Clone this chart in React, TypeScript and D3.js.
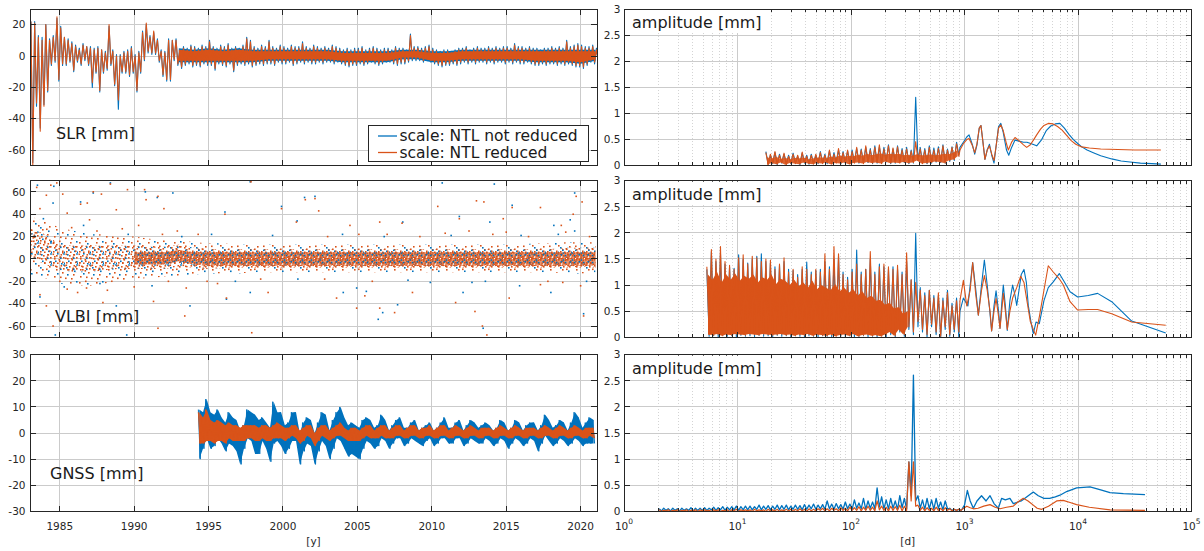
import React from 'react';
import * as d3 from 'd3';

const BLUE = '#0072BD';
const ORANGE = '#D95319';
const INK = '#262626';
const FONT = "'DejaVu Sans', Verdana, sans-serif";

// ---------------- axes / labels ----------------
const timeDomain = [1983.0, 2021.1];
const timeTicks = [1985, 1990, 1995, 2000, 2005, 2010, 2015, 2020];
const periodDomain = [1, 100000];
const periodTicks = [1, 10, 100, 1000, 10000, 100000];
const periodExponents = ['0', '1', '2', '3', '4', '5'];
const slrDomain = [-70, 30];
const slrTicks = [-60, -40, -20, 0, 20];
const vlbiDomain = [-70, 70];
const vlbiTicks = [-60, -40, -20, 0, 20, 40, 60];
const gnssDomain = [-30, 30];
const gnssTicks = [-30, -20, -10, 0, 10, 20, 30];
const ampDomain = [0, 3];
const ampTicks = [0, 0.5, 1, 1.5, 2, 2.5, 3];
const seriesNames = ['scale: NTL not reduced', 'scale: NTL reduced'];
const panelLabels = ['SLR [mm]', 'VLBI [mm]', 'GNSS [mm]'];
const ampLabel = 'amplitude [mm]';

// ---------------- SLR time series (min / max per quarter year from 1983.0) ----------------
const slrStart = 1983.0;
const slrStep = 0.25;
const slrOrangeHi = [
  22, 21, 12, 10, 20, 10, 12, 25, 18, 12, 10, 8, 6, 4, 7, 6, 5, 4, 5, 4,
  2, 20, 3, 0, 0, 2, 3, 5, 0, 2, 15, 21, 12, 16, 10, 3, 2, 10, 10, 10,
  3, 5, 4, 6, 5, 4, 6, 5, 9, 5, 4, 6, 5, 7, 4, 5, 4, 6, 11, 9,
  5, 4, 6, 5, 9, 5, 4, 6, 5, 4, 6, 5, 5, 8, 5, 4, 6, 5, 4, 5,
  4, 6, 5, 4, 3, 4, 3, 4, 4, 5, 3, 4, 5, 4, 3, 4, 4, 3, 5, 4,
  4, 3, 13, 5, 5, 4, 5, 6, 4, 3, 2, 3, 3, 2, 3, 4, 4, 5, 3, 4,
  5, 4, 4, 5, 4, 5, 4, 5, 5, 4, 7, 5, 5, 4, 5, 4, 4, 3, 4, 4,
  5, 4, 5, 4, 9, 5, 6, 7, 6, 5, 5, 6, 4,
];
const slrOrangeLo = [
  -70, -30, -48, -32, -22, -5, -3, -15, -5, -5, -3, -9, -3, -5, -2, -5, -17, -10, -22, -10,
  -8, -5, -18, -28, -10, -10, -12, -10, -22, -10, -2, 3, 2, 2, -3, -12, -15, -15, -2, -5,
  -7, -5, -4, -6, -5, -6, -4, -5, -5, -8, -4, -5, -6, -4, -9, -5, -4, -5, -4, -6,
  -5, -4, -5, -4, -4, -5, -3, -4, -4, -3, -5, -4, -3, -4, -3, -4, -4, -3, -4, -3,
  -3, -4, -3, -4, -5, -6, -5, -5, -4, -5, -4, -3, -4, -5, -4, -3, -3, -4, -5, -4,
  -4, -3, -2, -2, -2, -3, -2, -3, -4, -5, -6, -5, -5, -4, -5, -4, -3, -4, -3, -4,
  -3, -3, -4, -3, -4, -3, -3, -4, -3, -4, -3, -4, -4, -3, -4, -5, -5, -4, -5, -4,
  -4, -5, -4, -5, -4, -5, -6, -6, -7, -5, -3, -4, -3,
];
const slrBlueHi = [
  22, 22, 13, 12, 20, 11, 13, 24, 19, 12, 11, 9, 7, 5, 8, 6, 6, 5, 6, 4,
  3, 19, 4, 1, 1, 3, 4, 6, 1, 3, 16, 20, 13, 15, 11, 4, 3, 11, 10, 11,
  4, 6, 5, 7, 6, 5, 7, 6, 10, 6, 5, 7, 6, 8, 5, 6, 5, 7, 12, 10,
  6, 5, 7, 6, 10, 6, 5, 7, 6, 5, 7, 6, 6, 9, 6, 5, 7, 6, 5, 6,
  5, 7, 6, 5, 4, 5, 4, 5, 5, 6, 4, 5, 6, 5, 4, 5, 5, 4, 6, 5,
  5, 4, 14, 6, 6, 5, 6, 7, 5, 4, 3, 4, 4, 3, 4, 5, 5, 6, 4, 5,
  6, 5, 5, 6, 5, 6, 5, 6, 6, 5, 8, 6, 6, 5, 6, 5, 5, 4, 5, 5,
  6, 5, 6, 5, 10, 6, 7, 8, 7, 6, 6, 7, 5,
];
const slrBlueLo = [
  -68, -32, -46, -31, -23, -6, -4, -16, -6, -6, -4, -10, -4, -6, -3, -6, -20, -11, -23, -11,
  -9, -6, -19, -34, -11, -11, -13, -11, -23, -11, -3, 2, 1, 1, -4, -13, -16, -16, -3, -6,
  -8, -6, -5, -7, -6, -7, -5, -6, -6, -9, -5, -6, -7, -5, -10, -6, -5, -6, -5, -7,
  -6, -5, -6, -5, -5, -6, -4, -5, -5, -4, -6, -5, -4, -5, -4, -5, -5, -4, -5, -4,
  -4, -5, -4, -5, -6, -7, -6, -6, -5, -6, -5, -4, -5, -6, -5, -4, -4, -5, -6, -5,
  -5, -4, -3, -3, -3, -4, -3, -4, -5, -6, -7, -6, -6, -5, -6, -5, -4, -5, -4, -5,
  -4, -4, -5, -4, -5, -4, -4, -5, -4, -5, -4, -5, -5, -4, -5, -6, -6, -5, -6, -5,
  -5, -6, -5, -6, -5, -6, -7, -7, -8, -6, -4, -5, -4,
];
// dense core of the SLR record, yearly 1993 ... 2021
const slrCoreYears = [1993, 1994, 1995, 1996, 1997, 1998, 1999, 2000, 2001, 2002, 2003, 2004, 2005, 2006, 2007, 2008, 2009, 2010, 2011, 2012, 2013, 2014, 2015, 2016, 2017, 2018, 2019, 2020, 2021];
const slrCoreOrangeHi = [4, 3, 4, 3, 4, 3, 3, 3, 3, 3, 3, 2, 2, 2, 2, 3, 3, 2, 2, 3, 3, 3, 3, 3, 3, 3, 3, 3, 3];
const slrCoreOrangeLo = [-3, -3, -3, -3, -3, -3, -2, -2, -2, -2, -2, -3, -3, -3, -3, -1, -1, -3, -3, -2, -2, -2, -2, -2, -3, -3, -3, -4, -2];
const slrCoreBlueHi = [5, 4, 5, 4, 5, 4, 4, 4, 4, 4, 4, 3, 3, 3, 3, 4, 4, 3, 3, 4, 4, 4, 4, 4, 4, 4, 4, 4, 4];
const slrCoreBlueLo = [-4, -4, -4, -4, -4, -4, -3, -3, -3, -3, -3, -4, -4, -4, -4, -2, -2, -4, -4, -3, -3, -3, -3, -3, -4, -4, -4, -5, -3];

// ---------------- VLBI time series: point cloud bands per year + single points ----------------
const vlbiBandYears = [
  1983, 1984, 1985, 1986, 1987, 1988, 1989, 1990, 1991, 1992, 1993, 1994, 1995, 1996, 1997, 1998, 1999, 2000, 2001, 2002,
  2003, 2004, 2005, 2006, 2007, 2008, 2009, 2010, 2011, 2012, 2013, 2014, 2015, 2016, 2017, 2018, 2019, 2020, 2021,
];
const vlbiOuterHi = [38, 34, 28, 25, 22, 22, 20, 20, 18, 17, 17, 15, 14, 14, 13, 13, 13, 13, 13, 13, 13, 13, 13, 13, 13, 13, 13, 13, 13, 13, 13, 13, 13, 13, 14, 14, 15, 15, 15];
const vlbiOuterLo = [-14, -17, -22, -24, -24, -22, -20, -18, -17, -16, -15, -14, -13, -13, -13, -12, -12, -12, -12, -12, -12, -12, -12, -12, -12, -12, -12, -12, -12, -12, -12, -12, -12, -12, -12, -12, -13, -13, -13];
const vlbiMidHi = [28, 22, 13, 12, 12, 12, 12, 12, 11, 11, 13, 10, 9, 9, 9, 9, 9, 9, 9, 9, 9, 9, 9, 9, 9, 9, 9, 9, 9, 9, 9, 9, 9, 9, 9, 9, 10, 10, 10];
const vlbiMidLo = [2, -5, -10, -12, -12, -10, -9, -9, -9, -9, -7, -8, -9, -8, -8, -8, -8, -8, -8, -8, -8, -8, -8, -8, -8, -8, -8, -8, -8, -8, -8, -8, -8, -8, -8, -8, -8, -8, -8];
const vlbiInnerHi = [null, null, null, null, null, null, null, 6, 6, 6, 8, 6, 6, 6, 6, 6, 6, 6, 6, 6, 6, 6, 6, 6, 6, 6, 6, 6, 6, 6, 6, 6, 6, 6, 6, 6, 6, 6, 6];
const vlbiInnerLo = [null, null, null, null, null, null, null, -5, -5, -5, -2, -5, -6, -6, -6, -6, -6, -6, -6, -6, -6, -6, -6, -6, -6, -6, -6, -6, -6, -6, -6, -6, -6, -6, -6, -6, -6, -6, -6];
const vlbiPointsOrange = [
  [1983.45, 64], [1983.67, 45], [1984.1, 57], [1984.4, 66], [1984.8, 68], [1985.2, 58], [1985.5, 41], [1986.4, 49],
  [1986.85, 50], [1987.25, 60], [1987.8, 58], [1988.4, 67], [1989.55, 62], [1990.7, 62], [1990.8, 53], [1991.6, 56],
  [1992.0, 45], [1996.1, 40], [1997.85, 69], [1999.9, 45], [2000.9, 33], [1987.0, 35], [1988.8, 44], [1983.67, -32],
  [1984.1, -42], [1984.55, -60], [1986.4, -51], [1986.8, -26], [1987.9, -39], [1989.05, -57], [1989.8, -53], [1991.3, -38],
  [1991.6, -62], [1993.4, -51], [1996.2, -35], [1997.9, -66], [1999.0, -30], [1993.5, -26], [1985.5, -27], [2001.5, 53],
  [2002.15, 54], [2002.4, 43], [2004.5, 30], [2006.5, 33], [2008.0, 32], [2010.4, 47], [2011.85, 36], [2013.0, 52],
  [2013.5, 51], [2014.8, 36], [2015.4, 46], [2017.3, 46], [2018.7, 30], [2019.5, 40], [2019.7, 56], [2020.1, 51],
  [2003.6, -35], [2004.95, -44], [2005.5, -33], [2006.5, -44], [2007.5, -48], [2008.7, -30], [2011.6, -39], [2012.9, -47],
  [2013.4, -60], [2013.7, -68], [2015.2, -35], [2017.3, -23], [2018.8, -21], [2020.0, -24], [2020.2, -51],
  [1985.8, 28], [1986.2, -30], [1987.5, 25], [1988.2, -28], [1989.2, 27], [1990.3, 30], [1991.9, 22], [1992.9, 25],
  [1994.3, 22], [1995.6, -22], [1998.5, -18], [2003.0, 20], [2005.1, 22], [2006.0, -20], [2009.2, 20], [2010.9, 23],
  [2012.5, 25], [2014.1, 22], [2016.5, 20], [2017.8, -20], [2019.0, 24], [2020.6, 20], [1994.9, -20], [1992.3, -20],
  [1990.0, -25], [2002.8, -18], [2007.0, 22], [2015.0, 24],
];
const vlbiPointsBlue = [
  [1983.5, 66], [1983.9, 36], [1984.55, 50], [1984.6, 65], [1986.4, 51], [1987.25, 59], [1988.4, 68], [1990.75, 60],
  [1991.55, 55], [1992.6, 59], [1996.1, 42], [1997.8, 69], [1999.9, 47], [1983.67, -34], [1984.7, -68], [1986.45, -52],
  [1988.8, -42], [1989.5, -68], [1989.85, -55], [1993.75, -42], [1996.2, -36], [1997.8, -30], [2001.45, 55], [2000.95, 34],
  [2002.15, 56], [2008.05, 33], [2010.7, 68], [2011.85, 38], [2013.9, 33], [2014.2, 67], [2015.4, 48], [2018.2, 30],
  [2019.3, 35], [2019.6, 59], [2019.6, 25], [2004.05, -30], [2004.95, -26], [2005.6, -29], [2006.4, -54], [2006.7, -48],
  [2007.7, -41], [2009.9, -21], [2012.1, -30], [2012.7, -21], [2013.45, -62], [2015.9, -24], [2018.0, -30], [2020.2, -49],
  [1985.3, -25], [1986.6, 30], [1987.7, -22], [1989.6, 22], [1991.2, -24], [1993.2, 20], [1995.2, 22], [1996.8, -20],
  [1999.3, 21], [2001.0, -18], [2004.0, 22], [2006.8, 20], [2008.4, -19], [2011.3, 21], [2013.6, -20], [2016.0, 21],
  [2018.5, 22], [2020.4, -20],
];

// ---------------- GNSS time series (min / max per quarter year from 1994.25) ----------------
const gnssStart = 1994.25;
const gnssStep = 0.25;
const gnssBlueHi = [
  9, 8, 13, 8, 7, 9, 6, 4, 8, 6, 5, 1, 3, 9, 8, 7, 5, 6, 4, 2, 12, 8, 8, 3, 4, 8, 8,
  0, 4, 6, 5, 0, 4, 8, 7, 1, 5, 8, 10, 6, 3, 4, 3, 2, 5, 6, 5, 2, 3, 7, 5, 1, 3, 5, 6,
  2, 2, 4, 5, 1, 2, 3, 4, 1, 2, 4, 6, 2, 2, 4, 5, 1, 3, 5, 4, 2, 3, 4, 3, 1, 2, 5, 4,
  1, 2, 5, 4, 1, 3, 4, 4, 1, 3, 7, 5, 2, 3, 5, 4, 1, 4, 8, 6, 2, 4, 6, 5,
];
const gnssBlueLo = [
  -10, -6, -2, -6, -5, -2, -4, -7, -4, -5, -7, -12, -6, -2, -3, -8, -8, -3, -6, -11, -4, -3, -5, -8, -6, -3, -3,
  -12, -7, -4, -5, -12, -7, -3, -5, -10, -6, -2, -3, -6, -9, -8, -9, -10, -6, -3, -4, -6, -5, -2, -3, -6, -4, -2, -2,
  -5, -4, -2, -3, -4, -5, -3, -2, -5, -4, -2, -2, -4, -4, -2, -2, -5, -4, -2, -3, -4, -4, -2, -3, -5, -4, -2, -3,
  -6, -4, -2, -3, -5, -4, -2, -3, -7, -4, -1, -3, -5, -4, -2, -3, -5, -4, -2, -3, -5, -4, -4, -4,
];
const gnssOrangeHi = [
  8, 6, 9, 5, 4, 5, 4, 3, 4, 3, 3, 2, 3, 3, 3, 3, 2, 3, 3, 2, 3, 4, 3, 2, 2, 3, 3,
  1, 2, 3, 3, 0, 2, 3, 3, 1, 2, 3, 4, 2, 1, 2, 2, 1, 2, 3, 3, 1, 2, 3, 3, 1, 2, 3, 3,
  1, 2, 3, 3, 1, 2, 2, 3, 1, 2, 3, 3, 1, 2, 3, 2, 1, 2, 3, 2, 1, 2, 2, 2, 1, 2, 3, 2,
  1, 2, 3, 2, 1, 2, 2, 2, 1, 2, 3, 2, 1, 2, 3, 2, 1, 2, 3, 2, 1, 2, 2, 2,
];
const gnssOrangeLo = [
  -4, -4, -3, -3, -4, -3, -3, -4, -2, -3, -3, -3, -3, -2, -2, -3, -3, -2, -3, -3, -2, -2, -2, -3, -2, -1, -2,
  -4, -3, -1, -2, -5, -3, -1, -2, -3, -2, -1, -1, -2, -3, -3, -3, -3, -2, -1, -2, -2, -2, -1, -2, -2, -2, -1, -1,
  -2, -2, -1, -1, -2, -2, -1, -1, -2, -2, -1, -1, -2, -2, -1, -1, -2, -2, -1, -1, -2, -2, -1, -1, -2, -2, -1, -1,
  -2, -2, -1, -1, -2, -2, -1, -1, -2, -2, -1, -1, -2, -2, -1, -1, -2, -2, -1, -1, -2, -2, -1, -2,
];

// ---------------- amplitude spectra: min/max per log10(period) bin, then resolved curve ----------------
const specStep = 0.04;
const slrSpecStart = 1.24;
const slrSpecBlueHi = [
  0.27, 0.2, 0.25, 0.22, 0.22, 0.2, 0.24, 0.18, 0.24, 0.2, 0.22, 0.2, 0.27, 0.22, 0.28, 0.25, 0.3, 0.27, 0.28, 0.3,
  0.33, 0.32, 0.35, 0.33, 0.38, 0.36, 0.35, 0.4, 0.32, 0.38, 0.33, 0.35, 0.3, 1.31, 0.35, 0.33, 0.38, 0.34, 0.36, 0.4,
  0.32, 0.36, 0.45,
];
const slrSpecBlueLo = [
  0.03, 0.04, 0.02, 0.05, 0.03, 0.04, 0.05, 0.02, 0.05, 0.03, 0.04, 0.04, 0.05, 0.04, 0.04, 0.06, 0.03, 0.05, 0.04, 0.06,
  0.05, 0.05, 0.06, 0.04, 0.05, 0.05, 0.07, 0.04, 0.05, 0.06, 0.06, 0.04, 0.05, 0.1, 0.05, 0.04, 0.05, 0.07, 0.06, 0.05,
  0.08, 0.1, 0.2,
];
const slrSpecOrangeHi = [
  0.25, 0.22, 0.27, 0.2, 0.24, 0.18, 0.22, 0.2, 0.26, 0.18, 0.2, 0.22, 0.25, 0.2, 0.3, 0.22, 0.33, 0.25, 0.3, 0.27,
  0.35, 0.3, 0.38, 0.3, 0.35, 0.4, 0.32, 0.38, 0.34, 0.36, 0.3, 0.32, 0.28, 0.46, 0.32, 0.3, 0.35, 0.3, 0.33, 0.38,
  0.3, 0.35, 0.42,
];
const slrSpecOrangeLo = [
  0.02, 0.05, 0.03, 0.06, 0.02, 0.05, 0.04, 0.03, 0.06, 0.04, 0.03, 0.05, 0.04, 0.06, 0.03, 0.05, 0.04, 0.06, 0.03, 0.05,
  0.06, 0.04, 0.07, 0.05, 0.06, 0.04, 0.08, 0.05, 0.06, 0.05, 0.07, 0.05, 0.06, 0.1, 0.04, 0.05, 0.06, 0.08, 0.07, 0.05,
  0.1, 0.12, 0.18,
];
const slrSpecOrangeCore = [
  0.16, 0.14, 0.17, 0.13, 0.15, 0.12, 0.15, 0.14, 0.16, 0.12, 0.14, 0.15, 0.16, 0.14, 0.18, 0.15, 0.2, 0.17, 0.19, 0.18,
  0.21, 0.19, 0.23, 0.2, 0.22, 0.24, 0.21, 0.23, 0.22, 0.23, 0.2, 0.21, 0.19, 0.22, 0.2, 0.2, 0.22, 0.2, 0.21, 0.23,
  0.22, 0.25, 0.3,
];
const slrSpecBlueTail = [
  [2.96, 0.35], [2.99, 0.45], [3.02, 0.55], [3.04, 0.59], [3.07, 0.4], [3.09, 0.22], [3.11, 0.4], [3.13, 0.72], [3.145, 0.77],
  [3.16, 0.5], [3.18, 0.12], [3.2, 0.3], [3.22, 0.41], [3.24, 0.2], [3.26, 0.05], [3.28, 0.4], [3.3, 0.75], [3.32, 0.81],
  [3.34, 0.65], [3.37, 0.3], [3.39, 0.2], [3.415, 0.35], [3.445, 0.49], [3.48, 0.47], [3.52, 0.45], [3.55, 0.45],
  [3.59, 0.42], [3.636, 0.38], [3.68, 0.5], [3.72, 0.67], [3.76, 0.76], [3.8, 0.8], [3.84, 0.81], [3.88, 0.72], [3.92, 0.6],
  [3.96, 0.5], [4.0, 0.42], [4.033, 0.36], [4.08, 0.3], [4.135, 0.25], [4.2, 0.19], [4.297, 0.13], [4.38, 0.09],
  [4.458, 0.07], [4.55, 0.05], [4.65, 0.04], [4.73, 0.03],
];
const slrSpecOrangeTail = [
  [2.96, 0.3], [2.99, 0.42], [3.02, 0.5], [3.04, 0.52], [3.07, 0.38], [3.09, 0.25], [3.11, 0.42], [3.13, 0.72], [3.145, 0.77],
  [3.16, 0.5], [3.18, 0.12], [3.2, 0.3], [3.22, 0.38], [3.24, 0.22], [3.26, 0.1], [3.28, 0.4], [3.3, 0.72], [3.32, 0.78],
  [3.34, 0.68], [3.37, 0.42], [3.386, 0.3], [3.415, 0.45], [3.445, 0.54], [3.48, 0.48], [3.52, 0.4], [3.548, 0.35],
  [3.58, 0.4], [3.61, 0.5], [3.636, 0.59], [3.67, 0.7], [3.7, 0.77], [3.738, 0.81], [3.78, 0.8], [3.82, 0.75], [3.86, 0.68],
  [3.9, 0.58], [3.94, 0.48], [3.98, 0.41], [4.033, 0.36], [4.1, 0.34], [4.2, 0.32], [4.35, 0.31], [4.5, 0.3], [4.73, 0.3],
];

const vlbiSpecStart = 0.72;
const vlbiSpecBlueHi = [
  1.3, 1.64, 1.45, 1.6, 1.4, 1.35, 1.32, 1.58, 1.5, 1.42, 1.5, 1.55, 1.6, 1.45, 1.42, 1.35, 1.38, 1.45, 1.3, 1.28,
  1.2, 1.3, 1.44, 1.25, 1.28, 1.3, 1.45, 1.35, 1.5, 1.55, 1.25, 1.15, 1.3, 1.67, 1.25, 1.3, 1.5, 1.25, 1.4, 1.35,
  1.3, 1.35, 1.3, 1.25, 1.45, 1.1, 1.99, 0.95, 0.85, 0.9, 0.8, 0.8, 0.75, 0.9, 0.65, 0.75,
];
const vlbiSpecBlueLo = [
  0.02, 0.03, 0.01, 0.04, 0.02, 0.03, 0.01, 0.04, 0.02, 0.03, 0.01, 0.04, 0.02, 0.03, 0.01, 0.04, 0.02, 0.03, 0.01, 0.03,
  0.02, 0.01, 0.03, 0.02, 0.01, 0.03, 0.02, 0.01, 0.03, 0.02, 0.01, 0.03, 0.0, 0.02, 0.03, 0.01, 0.02, 0.0, 0.03, 0.01,
  0.05, 0.0, 0.1, 0.02, 0.15, 0.05, 0.2, 0.1, 0.0, 0.2, 0.05, 0.0, 0.15, 0.02, 0.1, 0.0,
];
const vlbiSpecOrangeHi = [
  1.35, 1.68, 1.5, 1.74, 1.45, 1.38, 1.3, 1.52, 1.58, 1.4, 1.55, 1.52, 1.45, 1.5, 1.48, 1.3, 1.4, 1.52, 1.25, 1.3,
  1.15, 1.35, 1.3, 1.2, 1.3, 1.25, 1.6, 1.3, 1.74, 1.6, 1.2, 1.1, 1.25, 1.4, 1.2, 1.3, 1.64, 1.2, 1.35, 1.4,
  1.35, 1.3, 1.38, 1.2, 1.62, 1.1, 1.05, 0.9, 0.8, 0.9, 0.75, 0.85, 0.7, 0.85, 0.6, 0.7,
];
const vlbiSpecOrangeLo = [
  0.05, 0.04, 0.06, 0.03, 0.05, 0.04, 0.06, 0.05, 0.04, 0.06, 0.05, 0.04, 0.06, 0.05, 0.04, 0.05, 0.06, 0.04, 0.05, 0.03,
  0.05, 0.04, 0.06, 0.03, 0.05, 0.04, 0.03, 0.05, 0.02, 0.04, 0.05, 0.03, 0.06, 0.02, 0.04, 0.05, 0.03, 0.04, 0.02, 0.05,
  0.1, 0.03, 0.15, 0.05, 0.2, 0.1, 0.3, 0.15, 0.05, 0.25, 0.1, 0.02, 0.2, 0.05, 0.15, 0.1,
];
const vlbiSpecOrangeCoreHi = [
  1.2, 1.1, 1.25, 1.05, 1.2, 1.1, 1.22, 1.08, 1.18, 1.12, 1.2, 1.05, 1.15, 1.1, 1.2, 1.02, 1.12, 1.08, 1.0, 1.1,
  0.98, 1.05, 0.95, 1.08, 0.92, 1.0, 0.95, 0.9, 1.02, 0.88, 0.95, 0.85, 0.92, 0.8, 0.88, 0.75, 0.8, 0.7, 0.72, 0.62,
  0.66, 0.55, 0.58, 0.45, 0.5,
];
const vlbiSpecBlueTail = [
  [2.96, 0.5], [2.99, 0.75], [3.03, 0.6], [3.072, 1.43], [3.1, 0.9], [3.122, 0.42], [3.15, 1.0], [3.175, 1.48], [3.2, 1.0],
  [3.225, 0.45], [3.239, 0.12], [3.26, 0.6], [3.278, 0.89], [3.3, 0.5], [3.313, 0.17], [3.33, 0.7], [3.342, 1.0], [3.36, 0.6],
  [3.377, 0.13], [3.4, 0.7], [3.424, 1.0], [3.445, 0.8], [3.46, 0.61], [3.48, 0.9], [3.5, 1.2], [3.524, 1.3], [3.545, 1.05],
  [3.562, 0.61], [3.585, 0.3], [3.606, 0.07], [3.63, 0.29], [3.659, 0.26], [3.7, 0.7], [3.738, 0.95], [3.782, 1.06],
  [3.835, 1.22], [3.871, 1.09], [3.93, 0.87], [3.997, 0.77], [4.09, 0.8], [4.173, 0.84], [4.297, 0.68], [4.473, 0.31], [4.773, 0.08],
];
const vlbiSpecOrangeTail = [
  [2.96, 0.7], [2.99, 1.09], [3.02, 0.6], [3.05, 0.9], [3.072, 1.43], [3.1, 0.8], [3.122, 0.42], [3.15, 0.9], [3.175, 1.18],
  [3.2, 0.9], [3.225, 0.5], [3.239, 0.12], [3.26, 0.5], [3.278, 0.74], [3.3, 0.4], [3.313, 0.17], [3.33, 0.55], [3.342, 0.84],
  [3.36, 0.5], [3.377, 0.15], [3.4, 0.5], [3.424, 0.75], [3.46, 0.95], [3.495, 1.17], [3.524, 1.05], [3.55, 0.7], [3.58, 0.3],
  [3.606, 0.15], [3.627, 0.04], [3.66, 0.4], [3.7, 0.9], [3.738, 1.37], [3.782, 1.25], [3.835, 1.12], [3.871, 1.0],
  [3.93, 0.68], [3.997, 0.52], [4.09, 0.53], [4.173, 0.53], [4.297, 0.45], [4.473, 0.29], [4.773, 0.23],
];

const gnssSpecStart = 0.3;
const gnssSpecBlueHi = [
  0.05, 0.06, 0.05, 0.06, 0.05, 0.06, 0.05, 0.07, 0.06, 0.06, 0.07, 0.06, 0.08, 0.07, 0.09, 0.08, 0.09, 0.1, 0.09, 0.1,
  0.1, 0.09, 0.12, 0.1, 0.11, 0.1, 0.12, 0.11, 0.12, 0.1, 0.12, 0.11, 0.13, 0.12, 0.14, 0.12, 0.13, 0.2, 0.14, 0.15,
  0.13, 0.18, 0.14, 0.22, 0.16, 0.25, 0.2, 0.18, 0.45, 0.28, 0.22, 0.25, 0.2, 0.3, 0.25, 0.95, 2.61, 0.3, 0.22, 0.25,
  0.22, 0.25, 0.18, 0.2, 0.06, 0.04, 0.04,
];
const gnssSpecBlueLo = [
  0.01, 0.02, 0.01, 0.02, 0.01, 0.02, 0.02, 0.01, 0.02, 0.02, 0.02, 0.03, 0.02, 0.03, 0.02, 0.03, 0.03, 0.02, 0.03, 0.03,
  0.03, 0.04, 0.03, 0.04, 0.03, 0.04, 0.03, 0.04, 0.03, 0.04, 0.04, 0.03, 0.04, 0.05, 0.04, 0.05, 0.04, 0.05, 0.04, 0.05,
  0.04, 0.05, 0.04, 0.06, 0.05, 0.04, 0.06, 0.05, 0.08, 0.05, 0.05, 0.06, 0.04, 0.07, 0.05, 0.3, 0.2, 0.06, 0.04, 0.05,
  0.04, 0.06, 0.03, 0.05, 0.02, 0.02, 0.02,
];
const gnssSpecOrangeHi = [
  0.03, 0.02, 0.03, 0.02, 0.03, 0.02, 0.03, 0.02, 0.03, 0.03, 0.03, 0.02, 0.03, 0.03, 0.02, 0.03, 0.03, 0.04, 0.03, 0.03,
  0.03, 0.04, 0.03, 0.03, 0.04, 0.03, 0.04, 0.03, 0.04, 0.04, 0.04, 0.05, 0.04, 0.05, 0.04, 0.05, 0.06, 0.05, 0.06, 0.05,
  0.07, 0.06, 0.08, 0.07, 0.09, 0.08, 0.1, 0.08, 0.2, 0.1, 0.08, 0.1, 0.09, 0.12, 0.1, 0.95, 0.95, 0.12, 0.08, 0.07,
  0.06, 0.08, 0.06, 0.07, 0.05, 0.04, 0.04,
];
const gnssSpecOrangeLo = [
  0.0, 0.01, 0.0, 0.01, 0.0, 0.01, 0.0, 0.01, 0.0, 0.01, 0.01, 0.0, 0.01, 0.0, 0.01, 0.0, 0.01, 0.0, 0.01, 0.01,
  0.0, 0.01, 0.01, 0.0, 0.01, 0.01, 0.0, 0.01, 0.01, 0.0, 0.01, 0.01, 0.0, 0.01, 0.01, 0.02, 0.01, 0.01, 0.02, 0.01,
  0.02, 0.01, 0.02, 0.02, 0.01, 0.02, 0.02, 0.01, 0.03, 0.02, 0.01, 0.02, 0.02, 0.01, 0.02, 0.2, 0.1, 0.02, 0.01, 0.02,
  0.01, 0.02, 0.01, 0.02, 0.01, 0.02, 0.02,
];
const gnssSpecBlueTail = [
  [2.98, 0.05], [3.0, 0.12], [3.025, 0.4], [3.05, 0.2], [3.078, 0.06], [3.11, 0.2], [3.15, 0.3], [3.19, 0.2], [3.225, 0.3],
  [3.26, 0.15], [3.298, 0.06], [3.327, 0.25], [3.36, 0.22], [3.4, 0.25], [3.43, 0.15], [3.47, 0.18], [3.5, 0.2], [3.55, 0.28],
  [3.606, 0.37], [3.65, 0.3], [3.7, 0.25], [3.75, 0.25], [3.8, 0.28], [3.841, 0.31], [3.9, 0.38], [3.988, 0.45], [4.05, 0.46],
  [4.106, 0.47], [4.2, 0.41], [4.282, 0.36], [4.4, 0.34], [4.59, 0.32],
];
const gnssSpecOrangeTail = [
  [2.98, 0.04], [3.02, 0.1], [3.05, 0.07], [3.078, 0.05], [3.12, 0.06], [3.17, 0.1], [3.225, 0.13], [3.27, 0.08], [3.313, 0.05],
  [3.37, 0.08], [3.43, 0.1], [3.47, 0.18], [3.518, 0.25], [3.56, 0.2], [3.606, 0.12], [3.64, 0.06], [3.68, 0.04], [3.74, 0.1],
  [3.812, 0.2], [3.87, 0.21], [3.93, 0.17], [3.988, 0.13], [4.1, 0.08], [4.282, 0.03], [4.59, 0.02],
];

// ---------------- layout ----------------
const W = 1204;
const H = 551;
const LX0 = 30, LX1 = 597;
const RX0 = 624, RX1 = 1191.5;
const ROWS = [[9, 165.7], [180.7, 337.2], [354.7, 511.4]];
const TL = 5.7;
const TLm = 3.3;

// scatter texture tiles (style only)
const sparseTile = { w: 26, h: 20, o: [[1, 2], [7, 0.5], [12, 5], [18, 2], [23, 6], [4, 9], [10, 12], [16, 9], [21, 14], [2, 16], [13, 17.5], [19, 18], [3, 5.5], [20, 8.5], [8, 16.5]], b: [[9, 3], [15, 14], [5, 13], [22, 10.5], [24, 1], [14, 7]] };
const midTile = { w: 13, h: 11, o: [[0.5, 0.5], [4, 2], [8.5, 1], [11, 4], [2, 5], [6.5, 6], [10, 8.5], [1, 9], [5, 9.5], [7.5, 3.5]], b: [[3, 7.5], [8, 4.5], [11.2, 0.2], [12, 9.5]] };
const denseTile = { w: 9, h: 7, o: [[0, 0], [3, 1], [6.5, 0.5], [1.5, 3.5], [5, 3], [7.5, 4.5], [0.5, 5.5], [3.8, 5.6]], b: [[2.5, 2], [6.8, 2.8], [4.6, 0.2]], wt: [[2.8, 4.4], [8, 6]] };

function zig(start, step, hi, lo) {
  const pts = [];
  for (let i = 0; i < hi.length; i++) {
    pts.push([start + step * (i + 0.25), hi[i]]);
    pts.push([start + step * (i + 0.75), lo[i]]);
  }
  return pts;
}

function tilePattern(id, t) {
  return (
    <pattern id={id} key={id} width={t.w} height={t.h} patternUnits="userSpaceOnUse">
      {t.o.map((p, i) => <rect key={'o' + i} x={p[0]} y={p[1]} width={1.6} height={1.6} fill={ORANGE} />)}
      {t.b.map((p, i) => <rect key={'b' + i} x={p[0]} y={p[1]} width={1.6} height={1.6} fill={BLUE} />)}
      {(t.wt || []).map((p, i) => <rect key={'w' + i} x={p[0]} y={p[1]} width={1.4} height={1.4} fill="#fff" />)}
    </pattern>
  );
}

function gridBack(key, x0, x1, y0, y1, xs, ys, minorXs) {
  return (
    <g key={key} shapeRendering="crispEdges">
      <rect x={x0} y={y0} width={x1 - x0} height={y1 - y0} fill="#fff" />
      {(minorXs || []).map((x, i) => (
        <line key={'m' + i} x1={x} x2={x} y1={y0} y2={y1} stroke="#d4d4d4" strokeWidth={1} strokeDasharray="1,2" />
      ))}
      {xs.map((x, i) => (
        <line key={'x' + i} x1={x} x2={x} y1={y0} y2={y1} stroke="#cbcbcb" strokeWidth={1} />
      ))}
      {ys.map((y, i) => (
        <line key={'y' + i} x1={x0} x2={x1} y1={y} y2={y} stroke="#cbcbcb" strokeWidth={1} />
      ))}
    </g>
  );
}

function boxFront(key, x0, x1, y0, y1, xs, ys, minorXs) {
  let d = '';
  xs.forEach((x) => { d += `M${x},${y1}V${y1 - TL}M${x},${y0}V${y0 + TL}`; });
  (minorXs || []).forEach((x) => { d += `M${x},${y1}V${y1 - TLm}M${x},${y0}V${y0 + TLm}`; });
  ys.forEach((y) => { d += `M${x0},${y}H${x0 + TL}M${x1},${y}H${x1 - TL}`; });
  return (
    <g key={key} fill="none" stroke={INK} strokeWidth={1} shapeRendering="crispEdges">
      <path d={d} />
      <rect x={x0} y={y0} width={x1 - x0} height={y1 - y0} />
    </g>
  );
}

export default function App() {
  const xT = d3.scaleLinear().domain(timeDomain).range([LX0, LX1]);
  const xP = d3.scaleLog().domain(periodDomain).range([RX0, RX1]);
  const yL = [
    d3.scaleLinear().domain(slrDomain).range([ROWS[0][1], ROWS[0][0]]),
    d3.scaleLinear().domain(vlbiDomain).range([ROWS[1][1], ROWS[1][0]]),
    d3.scaleLinear().domain(gnssDomain).range([ROWS[2][1], ROWS[2][0]]),
  ];
  const yTicksL = [slrTicks, vlbiTicks, gnssTicks];
  const yR = ROWS.map((r) => d3.scaleLinear().domain(ampDomain).range([r[1], r[0]]));

  const minorP = [];
  for (let e = 0; e < 5; e++) for (let m = 2; m <= 9; m++) minorP.push(m * Math.pow(10, e));

  const lineT = (y) => d3.line().x((d) => xT(d[0])).y((d) => y(d[1]));
  const lineP = (y) => d3.line().x((d) => xP(Math.pow(10, d[0]))).y((d) => y(d[1]));
  const bandYears = (y, years, hi, lo) =>
    d3.area()
      .defined((d, i) => hi[i] != null)
      .x((d) => xT(d))
      .y0((d, i) => y(lo[i] == null ? 0 : lo[i]))
      .y1((d, i) => y(hi[i] == null ? 0 : hi[i]))(years);
  const envT = (y, start, step, hi, lo) =>
    d3.area()
      .x((d, i) => xT(start + step * (i + 0.5)))
      .y0((d, i) => y(lo[i]))
      .y1((d, i) => y(hi[i]))(hi);
  const envP = (y, start, step, hi, lo) =>
    d3.area()
      .x((d, i) => xP(Math.pow(10, start + step * (i + 0.5))))
      .y0((d, i) => y(lo[i]))
      .y1((d, i) => y(hi[i]))(hi);

  const xsT = timeTicks.map((t) => xT(t));
  const xsP = periodTicks.map((p) => xP(p));
  const mxsP = minorP.map((p) => xP(p));

  const slrSpecB = zig(slrSpecStart, specStep, slrSpecBlueHi, slrSpecBlueLo).concat(slrSpecBlueTail);
  const slrSpecO = zig(slrSpecStart, specStep, slrSpecOrangeHi, slrSpecOrangeLo).concat(slrSpecOrangeTail);
  const vlbiSpecB = zig(vlbiSpecStart, specStep, vlbiSpecBlueHi, vlbiSpecBlueLo).concat(vlbiSpecBlueTail);
  const vlbiSpecO = zig(vlbiSpecStart, specStep, vlbiSpecOrangeHi, vlbiSpecOrangeLo).concat(vlbiSpecOrangeTail);
  const gnssSpecB = zig(gnssSpecStart, specStep, gnssSpecBlueHi, gnssSpecBlueLo).concat(gnssSpecBlueTail);
  const gnssSpecO = zig(gnssSpecStart, specStep, gnssSpecOrangeHi, gnssSpecOrangeLo).concat(gnssSpecOrangeTail);
  const vlbiCore = envP(yR[1], vlbiSpecStart, specStep, vlbiSpecOrangeCoreHi, vlbiSpecOrangeLo);
  const slrCore = envP(yR[0], slrSpecStart, specStep, slrSpecOrangeCore, slrSpecOrangeLo);

  const dot = (p, y, color, k) => (
    <rect key={k} x={xT(p[0]) - 0.8} y={y(p[1]) - 0.8} width={1.6} height={1.6} fill={color} />
  );

  return (
    <svg width={W} height={H} style={{ position: 'absolute', left: 0, top: 0, background: '#fff' }} fontFamily={FONT}>
      <defs>
        {ROWS.map((r, i) => (
          <clipPath id={'cl' + i} key={'cl' + i}>
            <rect x={LX0} y={r[0]} width={LX1 - LX0} height={r[1] - r[0]} />
          </clipPath>
        ))}
        {ROWS.map((r, i) => (
          <clipPath id={'cr' + i} key={'cr' + i}>
            <rect x={RX0} y={r[0]} width={RX1 - RX0} height={r[1] - r[0]} />
          </clipPath>
        ))}
        {tilePattern('pSparse', sparseTile)}
        {tilePattern('pMid', midTile)}
        {tilePattern('pDense', denseTile)}
      </defs>

      {ROWS.map((r, i) => gridBack('gl' + i, LX0, LX1, r[0], r[1], xsT, yTicksL[i].map((t) => yL[i](t)), null))}
      {ROWS.map((r, i) => gridBack('gr' + i, RX0, RX1, r[0], r[1], xsP, ampTicks.map((t) => yR[i](t)), mxsP))}

      {/* ---------- SLR ---------- */}
      <g clipPath="url(#cl0)" strokeLinejoin="round">
        <path d={bandYears(yL[0], slrCoreYears, slrCoreBlueHi, slrCoreBlueLo)} fill={BLUE} />
        <path d={lineT(yL[0])(zig(slrStart, slrStep, slrBlueHi, slrBlueLo))} stroke={BLUE} strokeWidth={1.1} fill="none" />
        <path d={bandYears(yL[0], slrCoreYears, slrCoreOrangeHi, slrCoreOrangeLo)} fill={ORANGE} />
        <path d={lineT(yL[0])(zig(slrStart, slrStep, slrOrangeHi, slrOrangeLo))} stroke={ORANGE} strokeWidth={1.1} fill="none" />
      </g>

      {/* ---------- VLBI ---------- */}
      <g clipPath="url(#cl1)">
        <path d={bandYears(yL[1], vlbiBandYears, vlbiOuterHi, vlbiOuterLo)} fill="url(#pSparse)" />
        <path d={bandYears(yL[1], vlbiBandYears, vlbiMidHi, vlbiMidLo)} fill="url(#pMid)" />
        <path d={bandYears(yL[1], vlbiBandYears, vlbiInnerHi, vlbiInnerLo)} fill={ORANGE} fillOpacity={0.62} />
        <path d={bandYears(yL[1], vlbiBandYears, vlbiInnerHi, vlbiInnerLo)} fill="url(#pDense)" />
        {vlbiPointsBlue.map((p, k) => dot(p, yL[1], BLUE, 'b' + k))}
        {vlbiPointsOrange.map((p, k) => dot(p, yL[1], ORANGE, 'o' + k))}
      </g>

      {/* ---------- GNSS ---------- */}
      <g clipPath="url(#cl2)" strokeLinejoin="round">
        <path d={envT(yL[2], gnssStart, gnssStep, gnssBlueHi, gnssBlueLo)} fill={BLUE} />
        <path d={lineT(yL[2])(zig(gnssStart, gnssStep, gnssBlueHi, gnssBlueLo))} stroke={BLUE} strokeWidth={1.0} fill="none" />
        <path d={envT(yL[2], gnssStart, gnssStep, gnssOrangeHi, gnssOrangeLo)} fill={ORANGE} />
        <path d={lineT(yL[2])(zig(gnssStart, gnssStep, gnssOrangeHi, gnssOrangeLo))} stroke={ORANGE} strokeWidth={1.0} fill="none" />
      </g>

      {/* ---------- spectra ---------- */}
      <g clipPath="url(#cr0)" strokeLinejoin="round">
        <path d={lineP(yR[0])(slrSpecB)} stroke={BLUE} strokeWidth={1.1} fill="none" />
        <path d={slrCore} fill={ORANGE} fillOpacity={0.9} />
        <path d={lineP(yR[0])(slrSpecO)} stroke={ORANGE} strokeWidth={1.1} fill="none" />
      </g>
      <g clipPath="url(#cr1)" strokeLinejoin="round">
        <path d={lineP(yR[1])(vlbiSpecB)} stroke={BLUE} strokeWidth={1.1} fill="none" />
        <path d={vlbiCore} fill={ORANGE} />
        <path d={lineP(yR[1])(vlbiSpecO)} stroke={ORANGE} strokeWidth={1.1} fill="none" />
      </g>
      <g clipPath="url(#cr2)" fill="none" strokeLinejoin="round">
        <path d={lineP(yR[2])(gnssSpecB)} stroke={BLUE} strokeWidth={1.3} />
        <path d={lineP(yR[2])(gnssSpecO)} stroke={ORANGE} strokeWidth={1.2} />
      </g>

      {ROWS.map((r, i) => boxFront('bl' + i, LX0, LX1, r[0], r[1], xsT, yTicksL[i].map((t) => yL[i](t)), null))}
      {ROWS.map((r, i) => boxFront('br' + i, RX0, RX1, r[0], r[1], xsP, ampTicks.map((t) => yR[i](t)), mxsP))}

      <g fontSize={10.5} fill={INK} textAnchor="end">
        {ROWS.map((r, i) =>
          yTicksL[i].map((t) => (
            <text key={'ly' + i + t} x={25.5} y={yL[i](t)} dy="0.36em">{String(t)}</text>
          ))
        )}
        {ROWS.map((r, i) =>
          ampTicks.map((t) => (
            <text key={'ry' + i + t} x={620.5} y={yR[i](t)} dy="0.36em">{String(t)}</text>
          ))
        )}
      </g>

      <g fontSize={10.5} fill={INK} textAnchor="middle">
        {timeTicks.map((t) => (
          <text key={'xt' + t} x={xT(t)} y={530}>{String(t)}</text>
        ))}
        {periodTicks.map((p, i) => (
          <text key={'xp' + p} x={xP(p)} y={529.5}>
            10<tspan dy={-5.5} fontSize={7.5}>{periodExponents[i]}</tspan>
          </text>
        ))}
        <text x={(LX0 + LX1) / 2} y={545}>[y]</text>
        <text x={(RX0 + RX1) / 2} y={545}>[d]</text>
      </g>

      <g fontSize={16} fill="#1a1a1a">
        <text x={56} y={139.3}>{panelLabels[0]}</text>
        <text x={55} y={321.7}>{panelLabels[1]}</text>
        <text x={50} y={479.3}>{panelLabels[2]}</text>
        {ROWS.map((r, i) => (
          <g key={'al' + i}>
            <rect x={RX0 + 1} y={r[0] + 1} width={139} height={23} fill="#fff" />
            <text x={632} y={r[0] + 19}>{ampLabel}</text>
          </g>
        ))}
      </g>

      <g>
        <rect x={368.5} y={125} width={220} height={36.5} fill="#fff" stroke={INK} strokeWidth={1} shapeRendering="crispEdges" />
        <line x1={378} x2={397} y1={136} y2={136} stroke={BLUE} strokeWidth={1.3} />
        <line x1={378} x2={397} y1={152.5} y2={152.5} stroke={ORANGE} strokeWidth={1.3} />
        <text x={399.5} y={141.3} fontSize={15.5} fill="#1a1a1a">{seriesNames[0]}</text>
        <text x={399.5} y={157.8} fontSize={15.5} fill="#1a1a1a">{seriesNames[1]}</text>
      </g>
    </svg>
  );
}
